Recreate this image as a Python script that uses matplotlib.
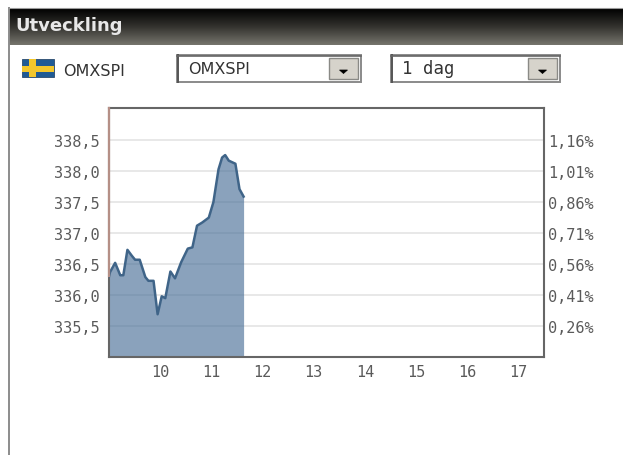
"""Utveckling widget: OMXSPI intraday chart, with its page chrome."""

import matplotlib
matplotlib.use("Agg")
import matplotlib.pyplot as plt
import numpy as np
from matplotlib.patches import Polygon, Rectangle

timmar = [9.0, 9.02, 9.12, 9.22, 9.28, 9.36, 9.45, 9.51, 9.60, 9.71, 9.77, 9.87,
          9.95, 10.03, 10.10, 10.20, 10.29, 10.41, 10.54, 10.63, 10.72, 10.82,
          10.95, 11.04, 11.14, 11.21, 11.27, 11.34, 11.47, 11.55, 11.63]
kurs = [336.30, 336.37, 336.52, 336.32, 336.32, 336.73, 336.63, 336.57, 336.57,
        336.29, 336.23, 336.23, 335.69, 335.98, 335.95, 336.38, 336.27, 336.53,
        336.75, 336.77, 337.12, 337.17, 337.25, 337.50, 338.03, 338.22, 338.26,
        338.17, 338.12, 337.71, 337.59]
x_ticks = [10, 11, 12, 13, 14, 15, 16, 17]
y_ticks = [335.5, 336.0, 336.5, 337.0, 337.5, 338.0, 338.5]
y_etiketter = ["335,5", "336,0", "336,5", "337,0", "337,5", "338,0", "338,5"]
pct_etiketter = ["0,26%", "0,41%", "0,56%", "0,71%", "0,86%", "1,01%", "1,16%"]

B, H = 623, 456
TEXT = "#5a5a5a"
MONO = "DejaVu Sans Mono"


def _dropdown(bg, x0, x1, y0, y1, text, family, storlek):
    """Ritar en Windows-lik rullgardinsmeny i pixelkoordinater."""
    bg.add_patch(Rectangle((x0, y0), x1 - x0, y1 - y0, fc="white", ec="#8a8a8a", lw=1.4))
    bg.plot([x0 + 1, x0 + 1], [y0, y1], color="#555555", lw=1.4)
    bg.plot([x0, x1], [y0 + 1, y0 + 1], color="#666666", lw=1.2)
    bg.add_patch(Rectangle((x1 - 32, y0 + 3), 29, y1 - y0 - 6, fc="#d6d3cb", ec="#8a8a86", lw=1))
    mitt = x1 - 17.5
    bg.add_patch(Polygon([(mitt - 4, y0 + 15), (mitt + 4, y0 + 15), (mitt, y0 + 18.5)], fc="black", ec="black", lw=0.5))
    bg.text(x0 + 11, (y0 + y1) / 2 - 0.5, text, family=family, fontsize=storlek,
            color="#333333", va="center", ha="left")


fig = plt.figure(figsize=(B / 100, H / 100), dpi=100, facecolor="white")

# bakgrund i pixelkoordinater
bg = fig.add_axes([0, 0, 1, 1])
bg.set_xlim(0, B)
bg.set_ylim(H, 0)
bg.axis("off")

gradient = np.linspace(0, 1, 64).reshape(-1, 1)
bg.imshow(gradient, extent=(9, B, 46, 9), cmap=matplotlib.colors.LinearSegmentedColormap.from_list(
    "hdr", ["#000000", "#33322e", "#75746c"]), aspect="auto", zorder=1)
bg.set_xlim(0, B)
bg.set_ylim(H, 0)
bg.plot([8.5, 8.5], [9, H], color="#8c8c8c", lw=1.4, zorder=2)
bg.plot([8.5, B], [8.5, 8.5], color="#9a9a9a", lw=0.8, zorder=2)
bg.text(15, 26, "Utveckling", color="#e8e8e8", fontsize=13, fontweight="bold",
        family="DejaVu Sans", va="center", ha="left", zorder=3)

# flagga
bg.add_patch(Rectangle((22, 60), 32, 18, fc="#1f5a94", ec="#2a4a6e", lw=0.6))
bg.add_patch(Rectangle((28.5, 60), 7, 18, fc="#f2c62c", ec="none"))
bg.add_patch(Rectangle((22, 66.5), 32, 6, fc="#f2c62c", ec="none"))
bg.text(63, 72, "OMXSPI", color="#333333", fontsize=11.5, family="DejaVu Sans", va="center", ha="left")

_dropdown(bg, 177, 361, 56, 83, "OMXSPI", "DejaVu Sans", 11.5)
_dropdown(bg, 391, 560, 56, 83, "1 dag", MONO, 12.5)

# diagrammet
ax = fig.add_axes([109 / B, 1 - 358 / H, (544 - 109) / B, (358 - 109) / H])
ax.set_xlim(9.0, 17.5)
ax.set_ylim(335.0, 339.02)
ax.patch.set_alpha(0)
ax.set_xticks(x_ticks)
ax.set_xticklabels([str(t) for t in x_ticks], fontsize=11, color=TEXT, family=MONO)
ax.set_yticks(y_ticks)
ax.set_yticklabels(y_etiketter, fontsize=11, color=TEXT, family=MONO)
ax.tick_params(axis="both", length=0)
ax.tick_params(axis="x", pad=5)
ax.tick_params(axis="y", pad=7)
ax.grid(axis="y", color="#e6e6e6", lw=1.3, zorder=1)
ax.set_axisbelow(True)
ax.fill_between(timmar, kurs, 335.0, color="#426a94", alpha=0.62, lw=0, zorder=2)
ax.plot(timmar, kurs, color="#3f6488", lw=1.8, zorder=3)
for sida in ax.spines.values():
    sida.set_color("#666666")
    sida.set_linewidth(1.5)
ax.plot([9.0, 9.0], [336.3, 339.02], color="#b58f86", lw=1.6, zorder=4, clip_on=False)

hoger = ax.twinx()
hoger.set_ylim(ax.get_ylim())
hoger.set_yticks(y_ticks)
hoger.set_yticklabels(pct_etiketter, fontsize=11, color=TEXT, family=MONO)
hoger.tick_params(axis="y", length=0, pad=3)
for sida in hoger.spines.values():
    sida.set_visible(False)

fig.savefig("out.png", dpi=100, facecolor="white")
